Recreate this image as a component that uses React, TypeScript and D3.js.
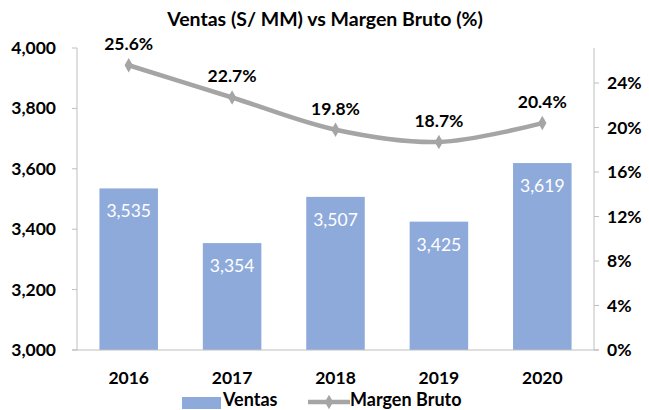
import React from "react";
import * as d3 from "d3";

const categories = ["2016", "2017", "2018", "2019", "2020"];
const ventas = [3535, 3354, 3507, 3425, 3619];
const margen = [0.256, 0.227, 0.198, 0.187, 0.204];
const leftTicks = [3000, 3200, 3400, 3600, 3800, 4000];
const rightTicks = [0, 0.04, 0.08, 0.12, 0.16, 0.2, 0.24];

const W = 649;
const H = 410;
const M = { left: 77, right: 594, top: 48, bottom: 350 };
const FONT = "Lato, 'Open Sans', sans-serif";
const AXIS = "#BFBFBF";
const BAR = "#8EAADB";
const LINE = "#A5A5A5";

export default function App() {
  const x = d3
    .scaleBand<string>()
    .domain(categories)
    .range([M.left, M.right])
    .paddingInner(0.434)
    .paddingOuter(0.217);
  const yL = d3.scaleLinear().domain([3000, 4000]).range([M.bottom, M.top]);
  const yR = d3.scaleLinear().domain([0, 0.2715]).range([M.bottom, M.top]);
  const cx = (c: string) => (x(c) as number) + x.bandwidth() / 2;

  const pts: [number, number][] = categories.map((c, i) => [cx(c), yR(margen[i])]);
  const line = d3.line().curve(d3.curveCatmullRom.alpha(0.5))(pts) as string;
  const diamond = d3.symbol().type(d3.symbolDiamond).size(60)() as string;
  const fmt = d3.format(",");
  const pct = d3.format(".1%");

  return (
    <svg width={W} height={H} style={{ position: "absolute", left: 0, top: 0, fontFamily: FONT }}>
      <rect width={W} height={H} fill="#fff" />
      <text x={325} y={26} textAnchor="middle" fontSize={19.5} fontWeight={700} fill="#000">
        Ventas (S/ MM) vs Margen Bruto (%)
      </text>

      {categories.map((c, i) => (
        <g key={c}>
          <rect x={x(c)} y={yL(ventas[i])} width={x.bandwidth()} height={M.bottom - yL(ventas[i])} fill={BAR} />
          <text x={cx(c)} y={yL(ventas[i]) + 29} textAnchor="middle" fontSize={17.5} fill="#fff">
            {fmt(ventas[i])}
          </text>
          <text x={cx(c)} y={384} textAnchor="middle" fontSize={17.5} fontWeight={700} fill="#000">
            {c}
          </text>
        </g>
      ))}

      {/* axes */}
      <line x1={M.left} x2={M.left} y1={M.top} y2={M.bottom} stroke={AXIS} />
      <line x1={M.right} x2={M.right} y1={M.top} y2={M.bottom} stroke={AXIS} />
      <line x1={M.left - 5} x2={M.right + 5} y1={M.bottom} y2={M.bottom} stroke={AXIS} />
      {leftTicks.map((t) => (
        <g key={t}>
          <line x1={M.left - 5} x2={M.left} y1={yL(t)} y2={yL(t)} stroke={AXIS} />
          <text x={56} y={yL(t) + 6} textAnchor="end" fontSize={17.5} fontWeight={700} fill="#000">
            {fmt(t)}
          </text>
        </g>
      ))}
      {rightTicks.map((t) => (
        <g key={t}>
          <line x1={M.right} x2={M.right + 5} y1={yR(t)} y2={yR(t)} stroke={AXIS} />
          <text x={607} y={yR(t) + 6} textAnchor="start" fontSize={17.5} fontWeight={700} fill="#000">
            {d3.format(".0%")(t)}
          </text>
        </g>
      ))}

      <path d={line} fill="none" stroke={LINE} strokeWidth={4.5} strokeLinecap="round" />
      {pts.map((p, i) => (
        <g key={i}>
          <path d={diamond} transform={`translate(${p[0]},${p[1]})`} fill={LINE} />
          <text x={p[0]} y={p[1] - 15} textAnchor="middle" fontSize={17.5} fontWeight={700} fill="#000">
            {pct(margen[i])}
          </text>
        </g>
      ))}

      {/* legend */}
      <rect x={182} y={397} width={39} height={12} fill={BAR} />
      <text x={223} y={406} fontSize={18} fontWeight={700} fill="#000">Ventas</text>
      <line x1={308} x2={350} y1={402} y2={402} stroke={LINE} strokeWidth={4.5} />
      <path d={diamond} transform="translate(329,402)" fill={LINE} />
      <text x={350} y={406} fontSize={18} fontWeight={700} fill="#000">Margen Bruto</text>
    </svg>
  );
}
